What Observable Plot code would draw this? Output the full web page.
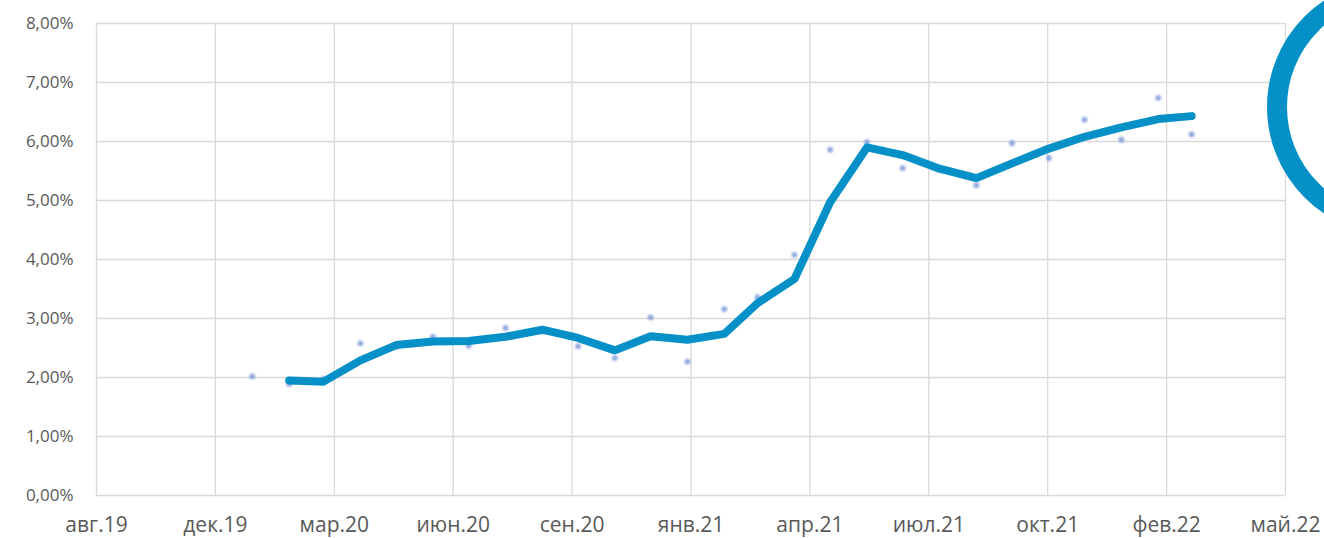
<!DOCTYPE html>
<html>
<head>
<meta charset="utf-8">
<script src="https://cdn.jsdelivr.net/npm/d3@7"></script>
<script src="https://cdn.jsdelivr.net/npm/@observablehq/plot@0.6"></script>
<style>
  html, body { margin: 0; padding: 0; background: #fff; }
  #wrap { position: relative; width: 1324px; height: 538px; overflow: hidden; }
  #wrap svg { display: block; font-family: "Open Sans", "Liberation Sans", sans-serif; }
  #wrap g[aria-label="dot"] { filter: blur(0.9px); }
  #ring { position: absolute; box-sizing: border-box; left: 1267px; top: -21px;
          width: 256px; height: 256px; border: 20px solid #0590C8; border-radius: 50%; }
</style>
</head>
<body>
<div id="wrap"></div>
<script>
// Monthly observations, Jan 2020 – Mar 2022 (percent)
const months = [
  "2020-01","2020-02","2020-03","2020-04","2020-05","2020-06","2020-07","2020-08","2020-09",
  "2020-10","2020-11","2020-12","2021-01","2021-02","2021-03","2021-04","2021-05","2021-06",
  "2021-07","2021-08","2021-09","2021-10","2021-11","2021-12","2022-01","2022-02","2022-03"
];
const pointValues = [
  2.02, 1.89, 1.97, 2.58, 2.52, 2.69, 2.54, 2.84, 2.78,
  2.53, 2.33, 3.02, 2.27, 3.16, 3.36, 4.08, 5.86, 5.99,
  5.55, 5.53, 5.26, 5.97, 5.72, 6.37, 6.03, 6.74, 6.12
];
// Trend line (moving average), Feb 2020 – Mar 2022 (percent)
const lineMonths = months.slice(1);
const lineValues = [
  1.95, 1.93, 2.29, 2.55, 2.61, 2.62, 2.69, 2.81,
  2.67, 2.46, 2.70, 2.64, 2.74, 3.26, 3.67, 4.97, 5.90,
  5.77, 5.54, 5.38, 5.63, 5.88, 6.08, 6.24, 6.38, 6.43
];
// Axis: date axis from 23 Aug 2019, major unit 100 days
const xStart = "2019-08-23";
const xEnd = "2022-05-19";
const xStepDays = 100;
const yTicks = [0, 1, 2, 3, 4, 5, 6, 7, 8];
const monthNames = ["янв","фев","мар","апр","май","июн","июл","авг","сен","окт","ноя","дек"];

const parse = s => new Date(s.length === 7 ? s + "-01T00:00:00Z" : s + "T00:00:00Z");
const points = months.map((m, i) => ({date: parse(m), value: pointValues[i]}));
const trend = lineMonths.map((m, i) => ({date: parse(m), value: lineValues[i]}));
const x0 = parse(xStart), x1 = parse(xEnd);
const xTicks = d3.utcDay.every(1).range(x0, d3.utcDay.offset(x1, 1)).filter((d, i) => i % xStepDays === 0);
const fmtX = d => monthNames[d.getUTCMonth()] + "." + String(d.getUTCFullYear()).slice(2);
const fmtY = d => d.toFixed(2).replace(".", ",") + "%";

const grid = "#d9d9d9";
const chart = Plot.plot({
  width: 1324,
  height: 538,
  marginLeft: 96,
  marginRight: 39,
  marginTop: 23,
  marginBottom: 43,
  x: {type: "utc", domain: [x0, x1]},
  y: {domain: [0, 8]},
  marks: [
    Plot.gridY(yTicks, {stroke: grid, strokeOpacity: 1, strokeWidth: 1.3}),
    Plot.gridX(xTicks, {stroke: grid, strokeOpacity: 1, strokeWidth: 1.3}),
    Plot.axisY(yTicks, {tickSize: 0, tickPadding: 23, tickFormat: fmtY, fontSize: 17, fill: "#595959", label: null}),
    Plot.axisX(xTicks, {tickSize: 0, tickPadding: 22, tickFormat: fmtX, fontSize: 21, fill: "#595959", label: null}),
    Plot.dot(points, {x: "date", y: "value", r: 2.9, fill: "#6a8bd4", fillOpacity: 0.75, stroke: "none"}),
    Plot.line(trend, {x: "date", y: "value", stroke: "#0590C8", strokeWidth: 8, strokeLinecap: "round", strokeLinejoin: "round"})
  ]
});
const wrap = document.getElementById("wrap");
wrap.appendChild(chart);
const ring = document.createElement("div");
ring.id = "ring";
wrap.appendChild(ring);
</script>
</body>
</html>
